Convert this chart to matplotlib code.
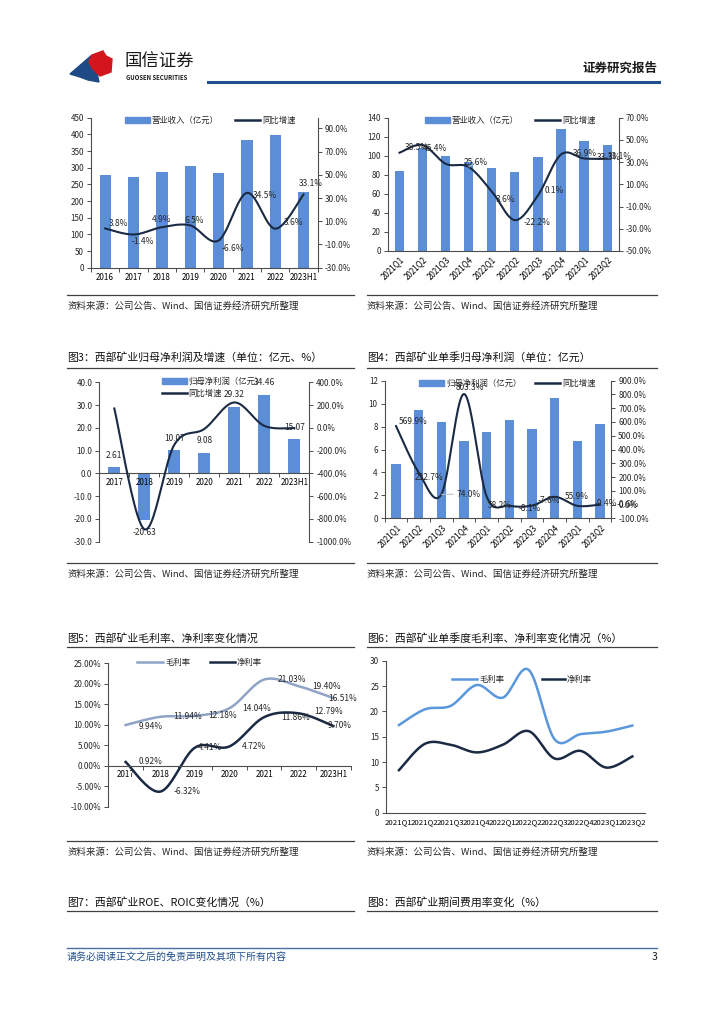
import numpy as np
import matplotlib
matplotlib.use('Agg')
import matplotlib.pyplot as plt
from matplotlib.lines import Line2D
from matplotlib.patches import Rectangle, Polygon
from matplotlib.ticker import FuncFormatter

plt.rcParams['font.family'] = ['Noto Sans CJK SC', 'DejaVu Sans']
plt.rcParams['axes.unicode_minus'] = False

# ---- data ----
rev_years = ['2016', '2017', '2018', '2019', '2020', '2021', '2022', '2023H1']
rev_values = [277, 272, 287, 306, 285, 384, 398, 226]
rev_growth = [3.8, -1.4, 4.9, 6.5, -6.6, 34.5, 3.6, 33.1]

quarters = ['2021Q1', '2021Q2', '2021Q3', '2021Q4', '2022Q1',
            '2022Q2', '2022Q3', '2022Q4', '2023Q1', '2023Q2']
q_rev = [84, 108, 100, 93, 87, 83, 99, 128, 116, 111]
q_rev_growth = [38.5, 45.4, 28.5, 25.6, 3.6, -22.2, 0.1, 36.9, 33.3, 33.1]

np_years = ['2017', '2018', '2019', '2020', '2021', '2022', '2023H1']
np_values = [2.61, -20.63, 10.07, 9.08, 29.32, 34.46, 15.07]
np_growth = [170.0, -890.4, -148.8, -9.8, 222.9, 17.5, -2.0]

q_np = [4.74, 9.41, 8.43, 6.74, 7.50, 8.60, 7.82, 10.52, 6.71, 8.22]
q_np_growth = [569.9, 232.7, 74.0, 803.3, 58.2, -8.1, -7.6, 55.9, -9.4, -0.6]

gross_margin = [9.94, 11.94, 12.18, 14.04, 21.03, 19.40, 16.51]
net_margin = [0.92, -6.32, 4.41, 4.72, 11.86, 12.79, 9.70]

q_gross = [17.3, 20.4, 21.1, 25.2, 22.7, 28.2, 14.5, 15.5, 16.0, 17.2]
q_net = [8.4, 13.6, 13.4, 11.9, 13.4, 16.1, 10.7, 12.2, 8.9, 11.1]

# label offsets in pixels (dx, dy up, ha); None = label hidden
rev_lbl_off = [(4, 5, 'left'), (-2, -7, 'left'), (0, 8, 'center'), (4, 5, 'center'),
               (3, -8, 'left'), (6, -3, 'left'), (9, 6, 'left'), (7, 11, 'center')]
q_rev_lbl_off = [(5, 5, 'left'), (0, -3, 'left'), None, (-5, 5, 'left'), (4, -8, 'left'),
                 (9, -2, 'left'), (7, 5, 'left'), (12, 1, 'left'), (13, 1, 'left'), (1, 2, 'left')]
q_np_lbl_off = [(3, 5, 'left'), (-4, -5, 'left'), (15, 0, 'left'), (6, 7, 'center'),
                (1, -9, 'left'), (9, -3, 'left'), (6, 5, 'left'), (10, 0, 'left'),
                (17, 2, 'left'), (17, 0, 'left')]
gross_lbl_off = [(13, -1), (13, 0), (13, 0), (13, 0), (14, 0), (13, 0), (-5, 0)]
net_lbl_off = [(13, 0), (13, 0), (3, 0), (12, 0), (17, 0), (15, 2), (-6, 0)]

BAR = '#5B8ED6'
LINE = '#1B2A44'
LIGHT = '#8FA3C6'
QBLUE = '#5A97DC'
TXT = '#262626'
SPINE = '#4D4D4D'

W, H = 724, 1024
fig = plt.figure(figsize=(W / 100, H / 100), dpi=100)
fig.patch.set_facecolor('white')


def px_axes(l, t, r, b):
    return fig.add_axes([l / W, 1 - b / H, (r - l) / W, (b - t) / H])


def ftext(x, y, s, **kw):
    kw.setdefault('va', 'center')
    fig.text(x / W, 1 - y / H, s, **kw)


def hline(x0, x1, y, color='#404040', lw=0.9):
    fig.add_artist(Line2D([x0 / W, x1 / W], [1 - y / H] * 2, color=color, lw=lw))


def legend_patch(x, y, label):
    fig.add_artist(Rectangle((x / W, 1 - (y + 3) / H), 25 / W, 6 / H,
                             transform=fig.transFigure, color=BAR))
    ftext(x + 27, y, label, fontsize=6, color=TXT)


def legend_line(x, y, label, color, lw=1.8, length=25):
    fig.add_artist(Line2D([x / W, (x + length) / W], [1 - y / H] * 2, color=color, lw=lw))
    ftext(x + length + 2, y, label, fontsize=6, color=TXT)


def smooth(vals, n=24):
    # Catmull-Rom curve through the points, like the spreadsheet's smoothed line
    y = np.asarray(vals, float)
    p = np.column_stack([np.arange(len(y), dtype=float), y])
    p = np.vstack([p[0], p, p[-1]])
    t = np.linspace(0, 1, n)[:, None]
    out = []
    for i in range(1, len(p) - 2):
        p0, p1, p2, p3 = p[i - 1], p[i], p[i + 1], p[i + 2]
        seg = 0.5 * (2 * p1 + (-p0 + p2) * t + (2 * p0 - 5 * p1 + 4 * p2 - p3) * t ** 2
                     + (-p0 + 3 * p1 - 3 * p2 + p3) * t ** 3)
        out.append(seg if i == 1 else seg[1:])
    arr = np.vstack(out)
    return arr[:, 0], arr[:, 1]


def style(ax, sides):
    for s in ['top', 'right', 'left', 'bottom']:
        ax.spines[s].set_visible(s in sides)
        ax.spines[s].set_color(SPINE)
        ax.spines[s].set_linewidth(0.8)
    ax.patch.set_alpha(0)
    ax.tick_params(labelsize=5.8, colors=SPINE, labelcolor=TXT, length=3, width=0.7, pad=2)


def cat_axis(ax, labels, pad=4, ticks=True):
    n = len(labels)
    ax.set_xlim(-0.5, n - 0.5)
    ax.set_xticks(np.arange(n + 1) - 0.5)
    ax.set_xticklabels([])
    ax.set_xticks(np.arange(n), minor=True)
    ax.set_xticklabels(labels, minor=True)
    ax.tick_params(axis='x', which='minor', length=0, pad=pad, labelsize=5.8)
    ax.tick_params(axis='x', which='major', length=3 if ticks else 0, direction='out')


pct1 = FuncFormatter(lambda v, _: f'{v:.1f}%')
pct2 = FuncFormatter(lambda v, _: f'{v:.2f}%')
one = FuncFormatter(lambda v, _: f'{v:.1f}')


def point_labels(ax, vals, offs, fmt, size=6, leader=()):
    for i, (v, o) in enumerate(zip(vals, offs)):
        if o is None:
            continue
        dx, dy = o[0], o[1]
        ha = o[2] if len(o) > 2 else 'left'
        kw = {}
        if i in leader:
            kw['arrowprops'] = dict(arrowstyle='-', color='#BFBFBF', lw=0.7, shrinkA=0, shrinkB=0)
        ax.annotate(fmt.format(v), (i, v), xytext=(dx * 0.72, dy * 0.72),
                    textcoords='offset points', ha=ha, va='center',
                    fontsize=size, color=TXT, **kw)


# ---- header ----
fig.add_artist(Polygon([(70 / W, 1 - 74 / H), (92 / W, 1 - 55 / H), (89 / W, 1 - 62 / H),
                        (92 / W, 1 - 68 / H), (97 / W, 1 - 73 / H), (99 / W, 1 - 82 / H),
                        (88 / W, 1 - 80 / H), (80 / W, 1 - 77 / H)],
                       closed=True, transform=fig.transFigure, color='#1E4B86'))
fig.add_artist(Polygon([(92 / W, 1 - 55 / H), (103 / W, 1 - 51 / H), (106 / W, 1 - 56 / H),
                        (112 / W, 1 - 59 / H), (111 / W, 1 - 72 / H), (100 / W, 1 - 76 / H),
                        (97 / W, 1 - 73 / H), (92 / W, 1 - 68 / H), (89 / W, 1 - 62 / H)],
                       closed=True, transform=fig.transFigure, color='#D3161E'))
ftext(125, 62, '国信证券', fontsize=12.5, color='#1A1A1A')
ftext(126, 77, 'GUOSEN SECURITIES', fontsize=4.3, color='#1A1A1A', fontweight='bold')
ftext(657, 68, '证券研究报告', fontsize=9, color='#1A1A1A', fontweight='bold', ha='right')
hline(208, 659, 82, color='#1F4E8C', lw=2.2)

# ---- chart 1: annual revenue ----
ax = px_axes(91, 117.7, 317.7, 267.7)
style(ax, ['left', 'bottom'])
ax.bar(np.arange(len(rev_values)), rev_values, width=0.4, color=BAR)
ax.set_ylim(0, 450)
ax.set_yticks(range(0, 451, 50))
cat_axis(ax, rev_years)
axr = ax.twinx()
style(axr, ['right'])
axr.set_ylim(-30, 99.3)
axr.set_yticks(range(-30, 91, 20))
axr.yaxis.set_major_formatter(pct1)
xs, ys = smooth(rev_growth)
axr.plot(xs, ys, color=LINE, lw=1.5)
point_labels(axr, rev_growth, rev_lbl_off, '{:.1f}%')
legend_patch(125, 120, '营业收入（亿元）')
legend_line(235, 120, '同比增速', LINE)

# ---- chart 2: quarterly revenue ----
ax = px_axes(388, 117.7, 618.7, 251)
style(ax, ['left', 'bottom'])
ax.bar(np.arange(len(q_rev)), q_rev, width=0.4, color=BAR)
ax.set_ylim(0, 140)
ax.set_yticks(range(0, 141, 20))
cat_axis(ax, quarters, pad=3, ticks=False)
for lab in ax.get_xticklabels(minor=True):
    lab.set_rotation(45)
    lab.set_ha('right')
    lab.set_va('top')
    lab.set_rotation_mode('anchor')
axr = ax.twinx()
style(axr, ['right'])
axr.set_ylim(-50, 70)
axr.set_yticks(range(-50, 71, 20))
axr.yaxis.set_major_formatter(pct1)
xs, ys = smooth(q_rev_growth)
axr.plot(xs, ys, color=LINE, lw=1.5)
point_labels(axr, q_rev_growth, q_rev_lbl_off, '{:.1f}%', leader=(3,))
legend_patch(425, 120, '营业收入（亿元）')
legend_line(535, 120, '同比增速', LINE)

# ---- section lines / sources row 1 ----
hline(67, 354, 295)
hline(367, 657, 295)
ftext(67, 306, '资料来源：公司公告、Wind、国信证券经济研究所整理', fontsize=6.8, color=TXT)
ftext(367, 306, '资料来源：公司公告、Wind、国信证券经济研究所整理', fontsize=6.8, color=TXT)

ftext(67, 357.5, '图3：西部矿业归母净利润及增速（单位：亿元、%）', fontsize=7.8, color='#111111')
ftext(367, 357.5, '图4：西部矿业单季归母净利润（单位：亿元）', fontsize=7.8, color='#111111')
hline(67, 354, 367.5)
hline(367, 657, 367.5)

# ---- chart 3: annual net profit ----
ax = px_axes(99.3, 382.3, 309.3, 541.7)
style(ax, ['left', 'bottom'])
ax.spines['bottom'].set_position(('data', 0))
ax.bar(np.arange(len(np_values)), np_values, width=0.4, color=BAR)
ax.set_ylim(-30, 40)
ax.set_yticks(range(-30, 41, 10))
ax.yaxis.set_major_formatter(one)
cat_axis(ax, np_years, pad=3)
for i, v in enumerate(np_values):
    ax.annotate(f'{v:.2f}', (i, v), xytext=(0, (12 if v >= 0 else -12) * 0.72),
                textcoords='offset points', ha='center', va='center', fontsize=6, color=TXT)
axr = ax.twinx()
style(axr, ['right'])
axr.set_ylim(-1000, 400)
axr.set_yticks(range(-1000, 401, 200))
axr.yaxis.set_major_formatter(pct1)
xs, ys = smooth(np_growth)
axr.plot(xs, ys, color=LINE, lw=1.5)
legend_patch(161.7, 381, '归母净利润（亿元）')
legend_line(161.7, 393.3, '同比增速', LINE)

# ---- chart 4: quarterly net profit ----
ax = px_axes(384.7, 380.7, 611.3, 518.3)
style(ax, ['left', 'bottom'])
ax.bar(np.arange(len(q_np)), q_np, width=0.4, color=BAR)
ax.set_ylim(0, 12)
ax.set_yticks(range(0, 13, 2))
cat_axis(ax, quarters, pad=3)
for lab in ax.get_xticklabels(minor=True):
    lab.set_rotation(45)
    lab.set_ha('right')
    lab.set_va('top')
    lab.set_rotation_mode('anchor')
axr = ax.twinx()
style(axr, ['right'])
axr.set_ylim(-100, 900)
axr.set_yticks(range(-100, 901, 100))
axr.yaxis.set_major_formatter(pct1)
xs, ys = smooth(q_np_growth)
axr.plot(xs, ys, color=LINE, lw=1.5)
point_labels(axr, q_np_growth, q_np_lbl_off, '{:.1f}%', leader=(2,))
legend_patch(419.3, 383.3, '归母净利润（亿元）')
legend_line(535.3, 383.3, '同比增速', LINE)

hline(67, 354, 563)
hline(367, 657, 563)
ftext(67, 574, '资料来源：公司公告、Wind、国信证券经济研究所整理', fontsize=6.8, color=TXT)
ftext(367, 574, '资料来源：公司公告、Wind、国信证券经济研究所整理', fontsize=6.8, color=TXT)

ftext(67, 638.5, '图5：西部矿业毛利率、净利率变化情况', fontsize=7.8, color='#111111')
ftext(367, 638.5, '图6：西部矿业单季度毛利率、净利率变化情况（%）', fontsize=7.8, color='#111111')
hline(67, 354, 647)
hline(367, 657, 647)

# ---- chart 5: annual margins ----
ax = px_axes(108.3, 663.3, 350.7, 806.7)
style(ax, ['left', 'bottom'])
ax.spines['bottom'].set_position(('data', 0))
ax.set_ylim(-10, 25)
ax.set_yticks(range(-10, 26, 5))
ax.yaxis.set_major_formatter(pct2)
cat_axis(ax, np_years, pad=3)
xs, ys = smooth(gross_margin)
ax.plot(xs, ys, color=LIGHT, lw=1.8)
xs, ys = smooth(net_margin)
ax.plot(xs, ys, color=LINE, lw=1.8)
point_labels(ax, gross_margin, gross_lbl_off, '{:.2f}%')
point_labels(ax, net_margin, net_lbl_off, '{:.2f}%')
legend_line(137.3, 662.3, '毛利率', LIGHT, length=26)
legend_line(210, 662.3, '净利率', LINE, length=25)

# ---- chart 6: quarterly margins ----
ax = px_axes(386, 660.7, 645.3, 812.7)
style(ax, ['left', 'bottom'])
ax.set_ylim(0, 30)
ax.set_yticks(range(0, 31, 5))
cat_axis(ax, quarters, pad=4, ticks=False)
ax.tick_params(axis='x', which='minor', labelsize=5.6)
xs, ys = smooth(q_gross)
ax.plot(xs, ys, color=QBLUE, lw=1.8)
xs, ys = smooth(q_net)
ax.plot(xs, ys, color=LINE, lw=1.8)
legend_line(452, 679.3, '毛利率', QBLUE)
legend_line(542, 679.3, '净利率', LINE, length=23)

hline(67, 354, 841)
hline(367, 657, 841)
ftext(67, 852.5, '资料来源：公司公告、Wind、国信证券经济研究所整理', fontsize=6.8, color=TXT)
ftext(367, 852.5, '资料来源：公司公告、Wind、国信证券经济研究所整理', fontsize=6.8, color=TXT)

ftext(67, 902, '图7：西部矿业ROE、ROIC变化情况（%）', fontsize=7.8, color='#111111')
ftext(367, 902, '图8：西部矿业期间费用率变化（%）', fontsize=7.8, color='#111111')
hline(67, 354, 911)
hline(367, 657, 911)

# ---- footer ----
hline(67, 657, 948, color='#4A6FA5', lw=1.0)
ftext(67, 957, '请务必阅读正文之后的免责声明及其项下所有内容', fontsize=7.2,
      color='#1F4E8C', style='italic')
ftext(657, 957, '3', fontsize=7.5, color='#1A1A1A', ha='right')

fig.savefig('out.png', dpi=100)
